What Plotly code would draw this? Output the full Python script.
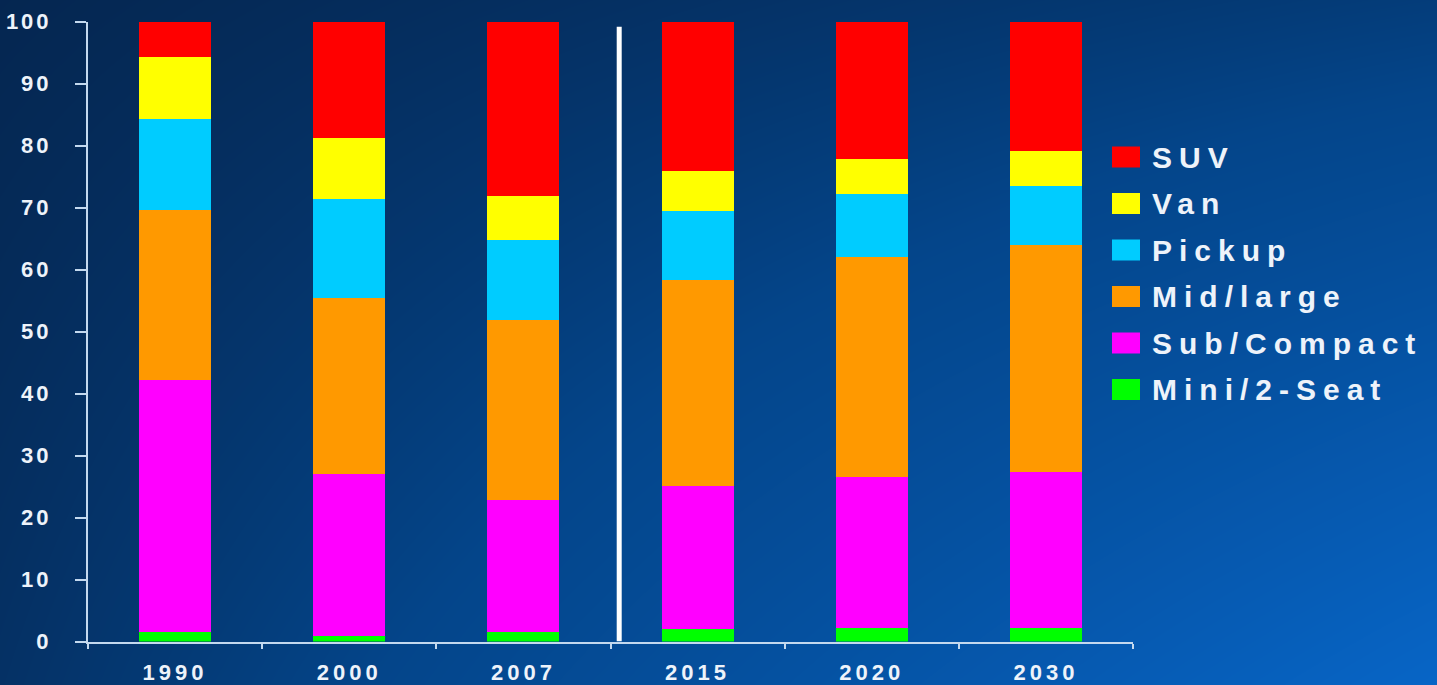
import numpy as np
import plotly.graph_objects as go

# Light-vehicle sales mix by class (percent of sales)
years = ["1990", "2000", "2007", "2015", "2020", "2030"]
mini_2seat = [1.6, 0.9, 1.6, 2.0, 2.3, 2.3]
sub_compact = [40.7, 26.2, 21.3, 23.2, 24.3, 25.1]
mid_large = [27.4, 28.4, 29.0, 33.2, 35.5, 36.7]
pickup = [14.6, 16.0, 13.0, 11.1, 10.2, 9.5]
van = [10.0, 9.8, 7.0, 6.5, 5.6, 5.6]
suv = [5.7, 18.7, 28.1, 24.0, 22.1, 20.8]

series_names = ["Mini/2-Seat", "Sub/Compact", "Mid/large", "Pickup", "Van", "SUV"]
series_values = [mini_2seat, sub_compact, mid_large, pickup, van, suv]
series_colors = ["#00ff00", "#ff00ff", "#ff9900", "#00ccff", "#ffff00", "#ff0000"]

y_ticks = list(range(0, 101, 10))

W, H = 1437, 685
TEXT = "#eef3fa"
AXIS = "#c4d9ef"
FONT = "Liberation Sans, Arial, sans-serif"


def spaced(s, px):
    return f'<span style="letter-spacing:{px}px">{s}</span>'


fig = go.Figure()

# Blue gradient backdrop spanning the whole page
n = 40
u = np.linspace(0, 1, n)
v = np.linspace(0, 1, n)
U, V = np.meshgrid(u, v)
shade = (U * V * 0.25 + (1 - U) * (1 - V) * 0.12 + U * (1 - V) * 1.0)
fig.add_trace(go.Heatmap(
    x=u, y=v, z=shade, zsmooth="best", showscale=False, hoverinfo="skip",
    zmin=0, zmax=1,
    colorscale=[[0, "#052650"], [0.35, "#04458a"], [1, "#0766c8"]],
    xaxis="x", yaxis="y",
))

# Stacked bars
for name, vals, col in zip(series_names, series_values, series_colors):
    fig.add_trace(go.Bar(
        x=years, y=vals, name=name, marker=dict(color=col, line=dict(width=0)),
        width=0.413, xaxis="x2", yaxis="y2", showlegend=False,
    ))

x0, x1 = 88 / W, 1133 / W
y0, y1 = 43.5 / H, 663.3 / H

fig.update_layout(
    width=W, height=H,
    margin=dict(l=0, r=0, t=0, b=0, autoexpand=False),
    paper_bgcolor="#052650",
    plot_bgcolor="rgba(0,0,0,0)",
    barmode="stack",
    bargap=0,
    font=dict(family=FONT, color=TEXT),
    xaxis=dict(domain=[0, 1], range=[0.01, 0.99], visible=False,
               fixedrange=True, automargin=False),
    yaxis=dict(domain=[0, 1], range=[0.01, 0.99], visible=False,
               fixedrange=True, automargin=False),
    xaxis2=dict(
        domain=[x0, x1], anchor="y2", type="category", range=[-0.5, 5.5],
        automargin=False,
        showline=True, linecolor=AXIS, linewidth=2,
        ticks="outside", tickson="boundaries", ticklen=5, tickwidth=2,
        tickcolor=AXIS, showgrid=False, zeroline=False,
        tickvals=years, ticktext=[spaced(f"<b>{y}</b>", 4) for y in years],
        tickfont=dict(size=22, color=TEXT, family=FONT),
        ticklabelstandoff=10,
    ),
    yaxis2=dict(
        domain=[y0, y1], anchor="x2", range=[0, 100],
        automargin=False,
        showline=True, linecolor=AXIS, linewidth=2,
        ticks="outside", ticklen=11, tickwidth=2, tickcolor=AXIS,
        showgrid=False, zeroline=False,
        tickvals=y_ticks, ticktext=[spaced(f"<b>{t}</b>", 3) for t in y_ticks],
        tickfont=dict(size=22, color=TEXT, family=FONT),
        ticklabelstandoff=19,
    ),
    showlegend=False,
)

# Divider between historical and projected years
fig.add_shape(type="line", xref="x2", yref="y2", x0=2.55, x1=2.55, y0=0, y1=99.2,
              line=dict(color="#ffffff", width=5))

# Legend: colour swatch plus label, SUV at the top
for i, (name, col) in enumerate(zip(series_names[::-1], series_colors[::-1])):
    cy = 157 + i * 46.5
    fig.add_shape(type="rect", xref="paper", yref="paper",
                  x0=1112 / W, x1=1140 / W, y0=1 - (cy + 10.5) / H, y1=1 - (cy - 10.5) / H,
                  fillcolor=col, line=dict(width=0))
    fig.add_annotation(xref="paper", yref="paper", x=1150 / W, y=1 - cy / H,
                       xanchor="left", yanchor="middle", showarrow=False,
                       text=spaced(f"<b>{name}</b>", 7),
                       font=dict(size=30, color=TEXT, family=FONT))

fig.write_html("out.html")
